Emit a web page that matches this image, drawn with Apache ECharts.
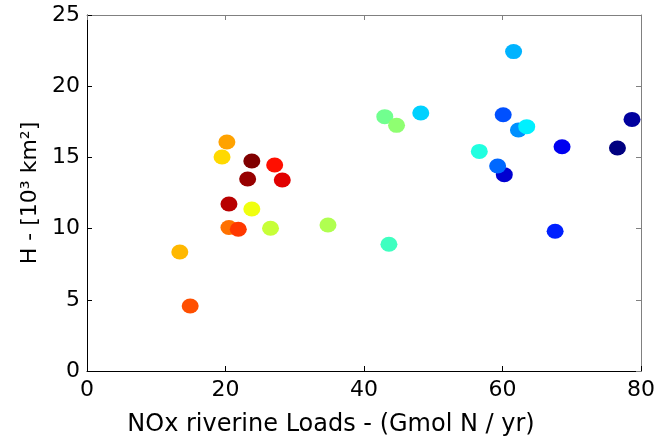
<!DOCTYPE html>
<html>
<head>
<meta charset="utf-8">
<script src="https://cdn.jsdelivr.net/npm/echarts@6/dist/echarts.min.js"></script>
<style>
  html, body { margin: 0; padding: 0; background: #fff; }
  #chart { width: 657px; height: 441px; }
</style>
</head>
<body>
<div id="chart"></div>
<script>
// NOx riverine loads (Gmol N / yr)
const noxLoads = [13.4, 14.9, 20.2, 19.5, 23.8, 27.1, 23.2, 28.2, 20.5, 23.8, 20.5, 21.85, 26.5, 34.8,
  43.0, 44.7, 43.6, 48.2, 56.65, 61.6, 60.1, 62.3, 63.5, 60.26, 59.3, 68.6, 76.6, 78.7, 67.6];
// H (10^3 km^2)
const hArea = [8.36, 4.56, 16.08, 15.03, 14.75, 14.47, 13.48, 13.41, 11.73, 11.38, 10.08, 9.95, 10.02, 10.25,
  17.86, 17.25, 8.9, 18.12, 15.42, 22.43, 18.0, 16.92, 17.16, 13.79, 14.40, 15.75, 15.66, 17.67, 9.81];
// colour index (jet colormap, 0 = dark blue, 1 = dark red)
const colorIndex = [0.695, 0.798, 0.717, 0.662, 1.0, 0.86, 0.977, 0.905, 0.945, 0.61, 0.765, 0.82, 0.57, 0.547,
  0.485, 0.515, 0.437, 0.33, 0.406, 0.30, 0.203, 0.266, 0.36, 0.08, 0.227, 0.11, 0.0, 0.03, 0.156];

const xTicks = [0, 20, 40, 60, 80];
const yTicks = [0, 5, 10, 15, 20, 25];

const points = noxLoads.map((x, i) => [x, hArea[i], colorIndex[i]]);

const jet = ['#000080', '#0000FF', '#0080FF', '#00FFFF', '#80FF80', '#FFFF00', '#FF8000', '#FF0000', '#800000'];
const font = 'DejaVu Sans';

let chart = echarts.init(document.getElementById('chart'));
chart.setOption({
  animation: false,
  backgroundColor: '#fff',
  grid: { left: 87, right: 16, top: 15, bottom: 70, outerBoundsMode: 'none', containLabel: false },
  visualMap: {
    show: false,
    seriesIndex: 0,
    dimension: 2,
    min: 0,
    max: 1,
    inRange: { color: jet }
  },
  xAxis: [
    {
      type: 'value',
      min: xTicks[0],
      max: xTicks[xTicks.length - 1],
      interval: 20,
      name: 'NOx riverine Loads - (Gmol N / yr)',
      nameLocation: 'middle',
      nameGap: 42,
      nameTextStyle: { fontFamily: font, fontSize: 24, color: '#000', padding: [0, 66, 0, 0] },
      axisLine: { onZero: false, lineStyle: { color: '#000', width: 1 } },
      axisTick: { inside: true, length: 5, lineStyle: { color: '#000' } },
      axisLabel: { fontFamily: font, fontSize: 22, color: '#000', margin: 8 },
      splitLine: { show: false }
    },
    {
      type: 'value',
      position: 'top',
      min: xTicks[0],
      max: xTicks[xTicks.length - 1],
      interval: 20,
      axisLine: { show: true, onZero: false, lineStyle: { color: '#808080', width: 1 } },
      axisTick: { show: true, inside: true, length: 5, lineStyle: { color: '#808080' } },
      axisLabel: { show: false },
      splitLine: { show: false }
    }
  ],
  yAxis: [
    {
      type: 'value',
      min: yTicks[0],
      max: yTicks[yTicks.length - 1],
      interval: 5,
      name: 'H - [10³ km²]',
      nameLocation: 'middle',
      nameGap: 46,
      nameTextStyle: { fontFamily: font, fontSize: 22, color: '#000' },
      axisLine: { onZero: false, lineStyle: { color: '#000', width: 1 } },
      axisTick: { inside: true, length: 5, lineStyle: { color: '#000' } },
      axisLabel: { fontFamily: font, fontSize: 22, color: '#000', margin: 7 },
      splitLine: { show: false }
    },
    {
      type: 'value',
      position: 'right',
      min: yTicks[0],
      max: yTicks[yTicks.length - 1],
      interval: 5,
      axisLine: { show: true, onZero: false, lineStyle: { color: '#808080', width: 1 } },
      axisTick: { show: true, inside: true, length: 5, lineStyle: { color: '#808080' } },
      axisLabel: { show: false },
      splitLine: { show: false }
    }
  ],
  series: [
    {
      type: 'scatter',
      xAxisIndex: 0,
      yAxisIndex: 0,
      symbol: 'circle',
      symbolSize: [17, 15],
      itemStyle: { opacity: 1 },
      data: points
    },
    {
      // keeps the top and right box axes alive
      type: 'scatter',
      xAxisIndex: 1,
      yAxisIndex: 1,
      silent: true,
      symbolSize: 0,
      data: []
    }
  ]
});
</script>
</body>
</html>
